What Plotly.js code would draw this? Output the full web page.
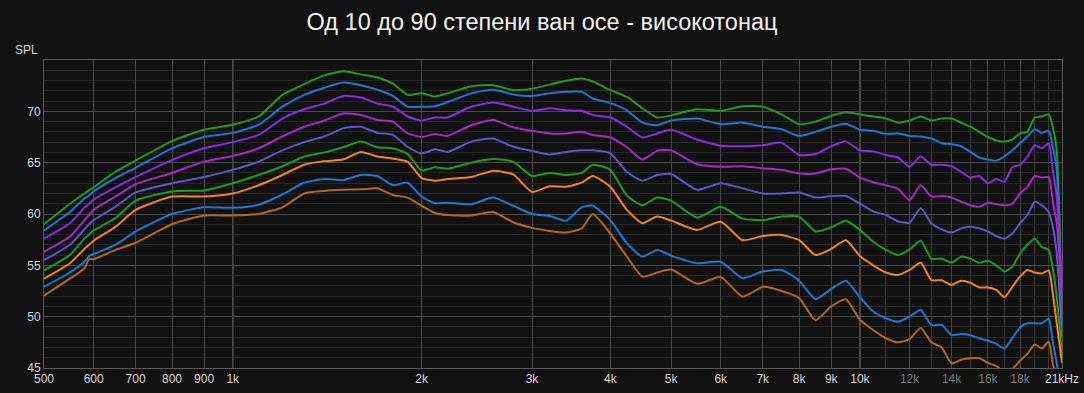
<!DOCTYPE html>
<html>
<head>
<meta charset="utf-8">
<script src="https://cdn.plot.ly/plotly-3.0.1.min.js"></script>
<style>
  html, body { margin: 0; padding: 0; background: #111111; }
  #chart { width: 1084px; height: 393px; }
</style>
</head>
<body>
<div id="chart"></div>
<script>
// Frequency grid (Hz)
const freqHz = [500,550,580,590,600,650,700,800,900,1000,
  1100,1200,1300,1400,1500,1600,1700,1800,1900,2000,
  2100,2200,2400,2600,2800,3000,3200,3400,3600,3750,4000,
  4250,4500,4750,5000,5500,6000,6500,7000,7500,8000,8500,9000,9500,
  10000,10500,11000,11500,12000,12500,13000,13500,14000,14500,15000,15500,16000,16500,17000,17500,18000,18500,19000,19500,20000,20300,20600,21000];

// SPL (dB) per off-axis angle
const spl10 = [59.0,61.0,62.0,62.3,62.6,64.1,65.2,67.1,68.2,68.7,
  69.5,71.6,72.65,73.5,73.9,73.6,73.3,72.7,71.6,71.75,
  71.45,71.75,72.45,72.55,72.07,72.2,72.6,72.97,73.2,72.9,72.07,
  71.4,70.3,69.4,69.6,70.2,70.05,70.5,70.45,69.7,68.75,69.0,69.55,69.9,
  69.7,69.5,69.3,68.9,69.1,69.5,69.1,69.3,69.3,68.9,68.5,68.0,67.5,67.15,67.05,67.25,67.85,68.0,69.4,69.5,69.7,68.5,66.2,50];
const spl20 = [58.4,60.2,61.5,61.8,62.2,63.5,64.5,66.4,67.5,67.9,
  68.7,70.45,71.6,72.3,72.8,72.55,72.1,71.5,70.45,70.45,
  70.5,70.9,71.75,72.1,71.65,71.5,71.75,71.9,71.9,71.25,70.8,
  70.1,68.9,68.65,69.1,69.3,68.75,68.9,68.5,68.25,67.6,68.0,68.5,68.8,
  68.2,68.1,67.8,67.85,67.6,67.55,67.35,66.9,66.8,66.6,66.05,65.5,65.3,65.2,65.6,66.2,66.9,67.55,68.25,67.9,68.1,66.55,64.3,48];
const spl30 = [57.6,59.1,60.6,61.0,61.4,62.6,63.6,65.25,66.4,67.0,
  67.7,69.3,70.2,70.75,71.5,71.35,70.75,70.45,69.5,69.1,
  69.4,69.4,70.45,70.85,70.45,70.05,70.3,70.1,70.05,69.65,69.4,
  68.5,67.45,67.85,68.2,67.25,66.65,66.6,66.7,66.95,65.75,65.85,66.6,67.05,
  66.2,66.1,65.75,65.5,64.6,65.6,64.8,64.8,64.65,64.1,63.55,63.7,63.0,63.4,63.15,64.55,64.8,65.6,66.7,66.4,66.9,64.3,61.7,51];
const spl40 = [56.3,57.8,59.4,59.9,60.4,61.7,62.9,64.0,65.1,65.65,
  66.4,67.55,68.5,69.1,69.8,69.65,69.15,69.0,67.85,67.5,
  67.8,67.6,68.65,69.15,68.45,68.1,67.85,67.85,68.0,67.7,67.45,
  66.5,65.3,66.15,66.2,64.85,64.6,64.65,64.45,64.3,63.95,63.95,64.35,64.4,
  63.55,63.1,62.8,62.45,61.35,62.8,61.7,61.75,61.6,61.2,60.85,60.7,61.1,60.95,60.85,61.0,62.0,62.65,63.7,63.55,63.6,61.2,59.1,52];
const spl50 = [55.5,57.0,58.5,59.0,59.4,60.7,62.1,63.0,63.6,64.3,
  65.1,66.2,67.0,67.55,68.35,68.5,67.9,67.7,66.55,65.9,
  66.3,66.05,67.05,67.35,66.55,66.15,65.8,66.05,66.2,66.2,65.9,
  64.1,63.25,63.8,63.9,62.35,63.0,62.5,62.0,62.0,62.1,61.6,61.75,61.75,
  61.0,60.25,59.9,59.3,59.15,60.55,59.1,58.5,58.2,58.6,58.75,58.6,58.3,57.85,57.6,58.1,59.1,59.9,61.2,60.85,60.2,58.75,56.15,48];
const spl60 = [54.5,56.0,57.6,58.0,58.4,59.6,61.3,62.2,62.3,63.0,
  63.8,64.65,65.6,66.0,66.5,67.05,66.5,66.4,65.85,64.25,
  64.55,64.4,65.0,65.35,65.1,63.7,64.0,63.8,64.0,64.8,64.3,
  61.8,60.85,61.6,61.3,59.65,60.7,59.55,59.4,59.75,59.75,58.3,58.7,59.35,
  58.45,57.3,56.5,56.0,56.55,57.4,55.65,55.65,55.25,55.85,55.65,55.25,55.45,55.0,54.4,54.85,56.15,57.0,57.6,56.8,56.5,54.7,51.95,46];
const spl70 = [53.7,55.2,56.6,57.0,57.4,58.75,60.4,61.7,61.7,62.0,
  62.8,63.8,64.8,65.15,65.3,66.05,65.6,65.4,65.1,63.5,
  63.25,63.4,63.6,64.2,63.85,62.15,62.7,62.65,63.05,63.7,62.65,
  60.4,59.1,59.75,59.35,58.45,59.25,57.45,57.85,57.95,57.45,56.0,56.6,57.45,
  55.9,55.0,54.3,54.05,54.55,55.25,53.55,53.55,53.1,53.5,53.3,52.85,52.85,52.6,51.9,52.9,53.9,54.55,54.3,54.2,54.5,52.3,49.35,45.5];
const spl80 = [52.9,54.3,55.35,55.9,56.1,57.0,58.3,60.0,60.65,60.6,
  60.9,61.9,63.05,63.4,63.3,63.8,63.7,62.8,63.05,61.7,
  61.05,61.1,60.95,61.6,60.8,60.0,59.8,59.35,60.65,60.8,59.4,
  57.15,55.85,56.5,55.95,55.2,55.35,53.75,54.4,54.55,53.5,51.7,52.7,53.5,
  51.9,50.5,49.85,49.5,50.0,50.65,49.2,49.2,48.2,48.3,48.2,47.9,47.65,47.35,46.9,47.9,48.95,49.35,49.35,49.35,49.8,47.55,45.45,42];
const spl90 = [52.05,53.7,54.7,55.6,55.6,56.5,57.2,59.0,59.85,59.85,
  60.0,60.65,62.0,62.25,62.35,62.4,62.5,61.85,61.6,60.8,
  60.1,59.9,59.85,60.2,59.2,58.65,58.35,58.2,58.6,60.0,58.1,
  55.85,53.9,54.3,54.6,53.2,53.85,51.95,52.9,52.5,51.8,49.65,51.0,51.7,
  49.7,48.7,47.9,47.5,47.8,48.9,47.5,47.0,45.45,45.8,45.95,45.95,45.5,45.2,44.6,44.9,45.7,46.4,47.3,46.9,47.55,45.45,43.8,40];

const seriesNames = ['10°','20°','30°','40°','50°','60°','70°','80°','90°'];
const seriesData = [spl10, spl20, spl30, spl40, spl50, spl60, spl70, spl80, spl90];
const seriesColors = ['#1f9c1f','#1f78d0','#8a2be6','#a928c6','#5e54cc','#1f9c1f','#ef8620','#1f78d0','#b5661f'];

// Axis ticks
const xTickVals = [500,600,700,800,900,1000,2000,3000,4000,5000,6000,7000,8000,9000,10000,12000,14000,16000,18000,21000];
const xTickText = ['500','600','700','800','900','1k','2k','3k','4k','5k','6k','7k','8k','9k','10k',
  '<span style="color:#7a7a7a">12k</span>','<span style="color:#7a7a7a">14k</span>',
  '<span style="color:#7a7a7a">16k</span>','<span style="color:#7a7a7a">18k</span>','21kHz'];
const xMinorVals = [11000,13000,15000,17000,19000,20000];
const yTickVals = [45,50,55,60,65,70];

const traces = seriesData.map((ys, i) => ({
  x: freqHz, y: ys, type: 'scatter', mode: 'lines', name: seriesNames[i],
  line: { color: seriesColors[i], width: 2, shape: 'spline', smoothing: 0.55 },
  hoverinfo: 'skip'
}));

const font = 'Liberation Sans, Arial, sans-serif';
const layout = {
  width: 1084, height: 393,
  paper_bgcolor: '#111111', plot_bgcolor: '#111111',
  margin: { l: 44, r: 22, t: 60, b: 25 },
  showlegend: false,
  title: { text: 'Од 10 до 90 степени ван осе - високотонац', x: 0.5, xanchor: 'center',
    y: 0.944, yanchor: 'middle', font: { family: font, size: 23.5, color: '#f2f2f2' } },
  xaxis: {
    type: 'log', range: [Math.log10(500), Math.log10(21000)],
    tickmode: 'array', tickvals: xTickVals, ticktext: xTickText,
    showgrid: true, gridcolor: '#474747', gridwidth: 1,
    minor: { tickmode: 'array', tickvals: xMinorVals, showgrid: true, gridcolor: '#3a3a3a', ticklen: 0 },
    showline: true, linecolor: '#5a5a5a', mirror: true, zeroline: false,
    ticks: '', ticklen: 0,
    tickfont: { family: font, size: 12, color: '#d8d8d8' }
  },
  yaxis: {
    range: [45, 75], tickmode: 'array', tickvals: yTickVals,
    showgrid: true, gridcolor: '#4a4a4a', gridwidth: 1,
    minor: { tickmode: 'linear', tick0: 45, dtick: 1, showgrid: true, gridcolor: '#262626', ticklen: 0 },
    showline: true, linecolor: '#5a5a5a', mirror: true, zeroline: false,
    ticks: '', ticklen: 0,
    tickfont: { family: font, size: 12, color: '#d8d8d8' }
  },
  shapes: [1000, 10000].map(f => ({
    type: 'line', xref: 'x', yref: 'paper', x0: f, x1: f, y0: 0, y1: 1,
    line: { color: '#9a9a9a', width: 1 }, layer: 'below'
  })),
  annotations: [{
    text: 'SPL', xref: 'paper', yref: 'paper', x: -0.017, y: 1.033,
    xanchor: 'center', yanchor: 'middle', showarrow: false,
    font: { family: font, size: 12, color: '#d0d0d0' }
  }]
};

Plotly.newPlot('chart', traces, layout, { staticPlot: true, displayModeBar: false });
</script>
</body>
</html>
